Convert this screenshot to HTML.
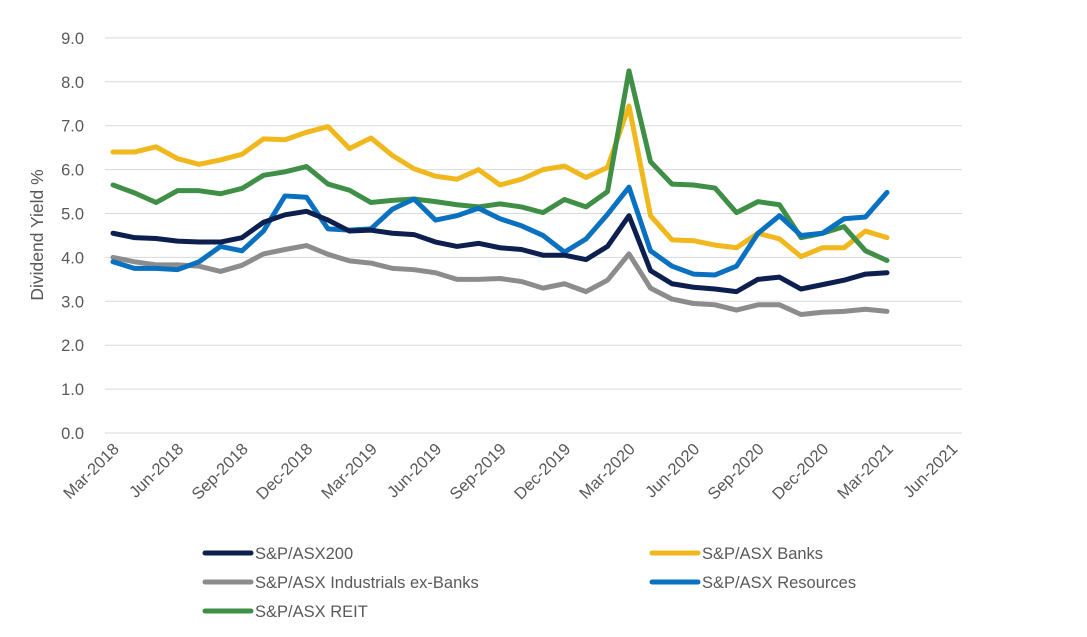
<!DOCTYPE html>
<html><head><meta charset="utf-8"><style>
body{margin:0;background:#fff;font-family:"Liberation Sans",Arial,sans-serif}
</style></head><body>
<svg id="chart" width="1087" height="632" xmlns="http://www.w3.org/2000/svg">
<g id="grid"></g>
<g id="yaxis"></g>
<g id="xaxis"></g>
<g id="series"></g>
<text transform="translate(43,235) rotate(-90)" text-anchor="middle" font-size="17.5" fill="#595959">Dividend Yield %</text>
<g id="legend"></g>
</svg>
<script>
const yTicks=["0.0","1.0","2.0","3.0","4.0","5.0","6.0","7.0","8.0","9.0"];
const xTicks=["Mar-2018","Jun-2018","Sep-2018","Dec-2018","Mar-2019","Jun-2019","Sep-2019","Dec-2019","Mar-2020","Jun-2020","Sep-2020","Dec-2020","Mar-2021","Jun-2021"];
const asx200=[4.55,4.45,4.43,4.37,4.35,4.35,4.45,4.8,4.97,5.05,4.85,4.6,4.62,4.55,4.52,4.35,4.25,4.32,4.22,4.18,4.05,4.05,3.95,4.25,4.95,3.7,3.4,3.32,3.28,3.22,3.5,3.55,3.28,3.38,3.48,3.62,3.65];
const banks=[6.4,6.4,6.52,6.25,6.12,6.22,6.35,6.7,6.68,6.85,6.98,6.48,6.72,6.32,6.02,5.85,5.78,6.0,5.65,5.78,6.0,6.08,5.82,6.05,7.45,4.95,4.4,4.38,4.28,4.22,4.55,4.42,4.02,4.22,4.22,4.6,4.45];
const industrials=[4.0,3.9,3.83,3.83,3.8,3.68,3.82,4.08,4.18,4.27,4.07,3.92,3.87,3.75,3.72,3.65,3.5,3.5,3.52,3.45,3.3,3.4,3.22,3.48,4.08,3.3,3.05,2.95,2.92,2.8,2.92,2.92,2.7,2.75,2.77,2.82,2.77];
const resources=[3.9,3.75,3.75,3.72,3.9,4.25,4.15,4.6,5.4,5.37,4.65,4.62,4.65,5.1,5.33,4.85,4.95,5.12,4.88,4.72,4.5,4.12,4.42,4.98,5.6,4.15,3.8,3.62,3.6,3.8,4.55,4.95,4.5,4.55,4.88,4.92,5.48];
const reit=[5.65,5.47,5.25,5.52,5.52,5.45,5.57,5.87,5.95,6.07,5.67,5.53,5.25,5.3,5.33,5.27,5.2,5.15,5.22,5.15,5.02,5.32,5.15,5.5,8.25,6.18,5.67,5.65,5.58,5.02,5.27,5.2,4.45,4.55,4.7,4.15,3.93];
const seriesNames=["S&P/ASX200","S&P/ASX Banks","S&P/ASX Industrials ex-Banks","S&P/ASX Resources","S&P/ASX REIT"];
const NS="http://www.w3.org/2000/svg";
const x0=113,dx=21.5,yb=433,ppu=43.9;
const X=i=>x0+i*dx, Y=v=>yb-v*ppu;
function mk(t,a,p){const e=document.createElementNS(NS,t);for(const k in a)e.setAttribute(k,a[k]);p.appendChild(e);return e;}
const grid=document.getElementById('grid'),ya=document.getElementById('yaxis'),xa=document.getElementById('xaxis');
yTicks.forEach((t,i)=>{const y=Y(+t);
 const l=mk('line',{x1:105,x2:962,y1:y,y2:y,stroke:'#d9d9d9','stroke-width':1},grid);
 
 const tx=mk('text',{x:84,y:y+6,'text-anchor':'end','font-size':16.5,fill:'#595959'},ya);tx.textContent=t;
 });
xTicks.forEach((t,i)=>{const x=X(i*3);
 const tx=mk('text',{transform:`translate(${x+7},${yb+17}) rotate(-45)`,'text-anchor':'end','font-size':16.5,fill:'#595959'},xa);tx.textContent=t;
 });
const sg=document.getElementById('series');
const data=[asx200,banks,industrials,resources,reit];
const colors=["#0c1f4f","#f0b81c","#8c8c8c","#0a70c0","#3f8f47"];
const order=[2,1,4,3,0];
order.forEach(k=>{const p=mk('polyline',{points:data[k].map((v,i)=>X(i)+','+Y(v)).join(' '),fill:'none',stroke:colors[k],'stroke-width':5,'stroke-linejoin':'round','stroke-linecap':'round'},sg);
 });
const lg=document.getElementById('legend');
const pos=[[205,553],[652,553],[205,582],[652,582],[205,611]];
seriesNames.forEach((n,k)=>{const [x,y]=pos[k];
 const g=mk('g',{},lg);
 mk('line',{x1:x,x2:x+46,y1:y,y2:y,stroke:colors[k],'stroke-width':5,'stroke-linecap':'round'},g);
 const t=mk('text',{x:x+50,y:y+6,'font-size':16.5,fill:'#595959'},g);t.textContent=n;});
</script>
</body></html>
